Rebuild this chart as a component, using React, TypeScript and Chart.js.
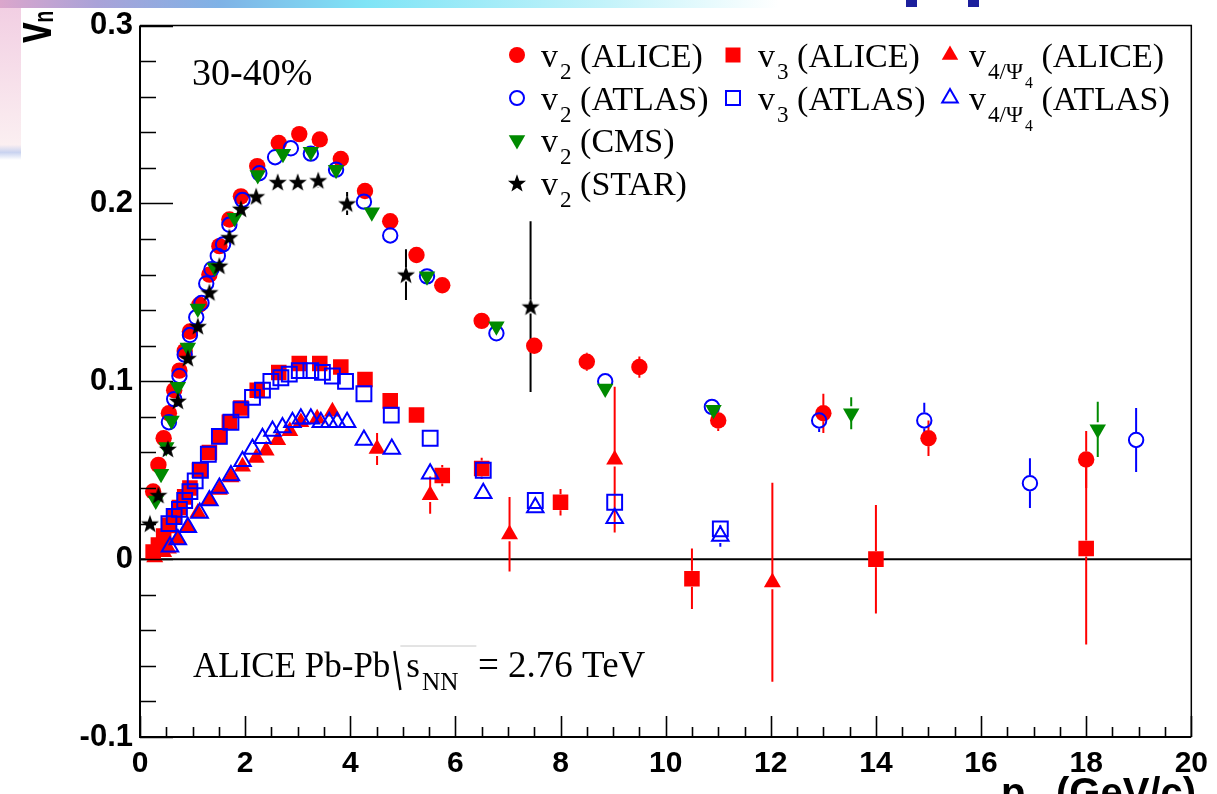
import React, { useEffect, useRef } from "react";
import { Chart, registerables } from "chart.js";

Chart.register(...registerables);

const W = 1217;
const H = 794;

// ---------------- data ----------------
const v2AlicePt = [0.25, 0.35, 0.45, 0.55, 0.65, 0.75, 0.85, 0.95, 1.13, 1.32, 1.51, 1.7, 1.92, 2.23, 2.64, 3.03, 3.42, 3.82, 4.28, 4.76, 5.26, 5.75, 6.5, 7.5, 8.5, 9.5, 11.0, 13.0, 15.0, 18.0];
const v2AliceVal = [0.038, 0.053, 0.068, 0.082, 0.095, 0.106, 0.117, 0.128, 0.143, 0.16, 0.176, 0.191, 0.204, 0.221, 0.234, 0.239, 0.236, 0.225, 0.207, 0.19, 0.171, 0.154, 0.134, 0.12, 0.111, 0.108, 0.078, 0.082, 0.068, 0.056];
const v2AliceErr = [0, 0, 0, 0, 0, 0, 0, 0, 0, 0, 0, 0, 0, 0, 0, 0, 0, 0, 0, 0, 0, 0, 0.003, 0.004, 0.005, 0.006, 0.006, 0.011, 0.01, 0.016];

const v2AtlasPt = [0.55, 0.65, 0.75, 0.85, 0.95, 1.07, 1.17, 1.26, 1.36, 1.48, 1.58, 1.7, 1.95, 2.27, 2.57, 2.87, 3.25, 3.73, 4.26, 4.76, 5.46, 6.78, 8.85, 10.88, 12.92, 14.92, 16.93, 18.95];
const v2AtlasVal = [0.077, 0.09, 0.103, 0.115, 0.126, 0.136, 0.144, 0.155, 0.163, 0.1705, 0.177, 0.188, 0.202, 0.217, 0.226, 0.231, 0.228, 0.219, 0.201, 0.182, 0.159, 0.127, 0.1, 0.0856, 0.078, 0.078, 0.0427, 0.067];
const v2AtlasErr = [0, 0, 0, 0, 0, 0, 0, 0, 0, 0, 0, 0, 0, 0, 0, 0, 0, 0, 0, 0, 0, 0, 0, 0.003, 0.0065, 0.01, 0.014, 0.018];

const v2CmsPt = [0.3, 0.4, 0.5, 0.6, 0.72, 0.91, 1.1, 1.42, 1.8, 2.24, 2.72, 3.25, 3.73, 4.41, 5.46, 6.78, 8.85, 10.91, 13.53, 18.22];
const v2CmsVal = [0.033, 0.048, 0.063, 0.078, 0.097, 0.119, 0.141, 0.164, 0.192, 0.216, 0.228, 0.229, 0.219, 0.195, 0.159, 0.131, 0.096, 0.084, 0.082, 0.073];
const v2CmsErr = [0, 0, 0, 0, 0, 0, 0, 0, 0, 0, 0, 0, 0, 0, 0, 0, 0, 0.003, 0.009, 0.0155];

const v2StarPt = [0.19, 0.35, 0.53, 0.72, 0.91, 1.1, 1.32, 1.51, 1.7, 1.92, 2.21, 2.62, 3.0, 3.39, 3.94, 5.06, 7.43];
const v2StarVal = [0.02, 0.036, 0.062, 0.089, 0.113, 0.131, 0.15, 0.165, 0.181, 0.197, 0.204, 0.212, 0.212, 0.213, 0.2, 0.16, 0.142];
const v2StarErr = [0, 0, 0, 0, 0, 0, 0, 0, 0, 0, 0, 0, 0, 0.004, 0.0065, 0.0143, 0.048];

const v3AlicePt = [0.25, 0.35, 0.45, 0.55, 0.65, 0.75, 0.85, 0.95, 1.13, 1.32, 1.51, 1.7, 1.92, 2.23, 2.64, 3.03, 3.42, 3.82, 4.28, 4.76, 5.26, 5.75, 6.5, 8.0, 10.5, 14.0, 18.0];
const v3AliceVal = [0.004, 0.008, 0.013, 0.019, 0.024, 0.029, 0.035, 0.04, 0.05, 0.06, 0.069, 0.077, 0.085, 0.095, 0.105, 0.11, 0.11, 0.108, 0.101, 0.089, 0.081, 0.047, 0.051, 0.032, -0.011, 0.0, 0.006];
const v3AliceErr = [0, 0, 0, 0, 0, 0, 0, 0, 0, 0, 0, 0, 0, 0, 0, 0, 0, 0, 0.003, 0.0035, 0.0045, 0.006, 0.006, 0.0075, 0.017, 0.0305, 0.054];

const v3AtlasPt = [0.55, 0.65, 0.75, 0.85, 0.95, 1.05, 1.15, 1.3, 1.51, 1.73, 1.92, 2.14, 2.33, 2.49, 2.68, 2.84, 3.03, 3.25, 3.47, 3.66, 3.91, 4.26, 4.78, 5.52, 6.53, 7.52, 9.03, 11.04];
const v3AtlasVal = [0.02, 0.024, 0.028, 0.033, 0.038, 0.044, 0.05, 0.059, 0.069, 0.077, 0.084, 0.091, 0.095, 0.1, 0.102, 0.104, 0.106, 0.106, 0.105, 0.103, 0.1, 0.093, 0.081, 0.068, 0.05, 0.033, 0.032, 0.017];
const v3AtlasErr = [0, 0, 0, 0, 0, 0, 0, 0, 0, 0, 0, 0, 0, 0, 0, 0, 0, 0, 0, 0, 0, 0, 0, 0, 0, 0, 0, 0.004];

const v4AlicePt = [0.28, 0.45, 0.54, 0.72, 0.91, 1.1, 1.32, 1.51, 1.73, 1.95, 2.21, 2.4, 2.62, 2.85, 3.06, 3.37, 3.66, 4.51, 5.52, 7.03, 9.03, 12.03];
const v4AliceVal = [0.001, 0.004, 0.006, 0.011, 0.018, 0.026, 0.033, 0.039, 0.046, 0.052, 0.057, 0.061, 0.067, 0.072, 0.077, 0.079, 0.083, 0.062, 0.036, 0.014, 0.056, -0.013];
const v4AliceErr = [0, 0, 0, 0, 0, 0, 0, 0, 0, 0, 0, 0, 0, 0, 0, 0, 0.004, 0.009, 0.0105, 0.021, 0.041, 0.056];

const v4AtlasPt = [0.57, 0.72, 0.91, 1.135, 1.32, 1.51, 1.73, 1.95, 2.14, 2.33, 2.52, 2.71, 2.9, 3.06, 3.25, 3.44, 3.6, 3.75, 3.94, 4.26, 4.79, 5.52, 6.53, 7.52, 9.03, 11.04];
const v4AtlasVal = [0.007, 0.011, 0.018, 0.026, 0.033, 0.04, 0.047, 0.055, 0.062, 0.068, 0.072, 0.074, 0.077, 0.079, 0.079, 0.077, 0.077, 0.077, 0.077, 0.067, 0.062, 0.048, 0.037, 0.029, 0.023, 0.013];
const v4AtlasErr = [0, 0, 0, 0, 0, 0, 0, 0, 0, 0, 0, 0, 0, 0, 0, 0, 0, 0, 0, 0, 0, 0, 0, 0, 0, 0.006];

const xTickValues = [0, 2, 4, 6, 8, 10, 12, 14, 16, 18, 20];
const xTickLabels = ["0", "2", "4", "6", "8", "10", "12", "14", "16", "18", "20"];
const yTickValues = [-0.1, 0, 0.1, 0.2, 0.3];
const yTickLabels = ["-0.1", "0", "0.1", "0.2", "0.3"];

const legendLabels = [
  "v_{2} (ALICE)", "v_{3} (ALICE)", "v_{4/\u03A8_{4}} (ALICE)",
  "v_{2} (ATLAS)", "v_{3} (ATLAS)", "v_{4/\u03A8_{4}} (ATLAS)",
  "v_{2} (CMS)", "v_{2} (STAR)",
];
const centralityText = "30-40%";
const systemTextA = "ALICE Pb-Pb";
const systemTextS = "s_{NN}";
const systemTextB = "= 2.76 TeV";
const yTitle = "v_{n}";
const xTitleA = "p_{T}";
const xTitleB = "(GeV/c)";

// ---------------- styles ----------------
const RED = "#ff0000";
const BLUE = "#0000ff";
const GREEN = "#008a00";
const BLACK = "#000000";
const SANS = '"Liberation Sans", Arial, sans-serif';
const SERIF = '"Liberation Serif", "Times New Roman", serif';

type Marker = "dot" | "ocircle" | "fsquare" | "osquare" | "ftri" | "otri" | "dtri" | "star";
interface Series { label: string; pt: number[]; val: number[]; err: number[]; color: string; marker: Marker; }

// drawing order: first = bottom
const series: Series[] = [
  { label: legendLabels[0], pt: v2AlicePt, val: v2AliceVal, err: v2AliceErr, color: RED, marker: "dot" },
  { label: legendLabels[1], pt: v3AlicePt, val: v3AliceVal, err: v3AliceErr, color: RED, marker: "fsquare" },
  { label: legendLabels[2], pt: v4AlicePt, val: v4AliceVal, err: v4AliceErr, color: RED, marker: "ftri" },
  { label: legendLabels[3], pt: v2AtlasPt, val: v2AtlasVal, err: v2AtlasErr, color: BLUE, marker: "ocircle" },
  { label: legendLabels[4], pt: v3AtlasPt, val: v3AtlasVal, err: v3AtlasErr, color: BLUE, marker: "osquare" },
  { label: legendLabels[5], pt: v4AtlasPt, val: v4AtlasVal, err: v4AtlasErr, color: BLUE, marker: "otri" },
  { label: legendLabels[6], pt: v2CmsPt, val: v2CmsVal, err: v2CmsErr, color: GREEN, marker: "dtri" },
  { label: legendLabels[7], pt: v2StarPt, val: v2StarVal, err: v2StarErr, color: BLACK, marker: "star" },
];

// legend layout: [series index, column, row]
const legendSlots: [number, number, number][] = [
  [0, 0, 0], [1, 1, 0], [2, 2, 0],
  [3, 0, 1], [4, 1, 1], [5, 2, 1],
  [6, 0, 2], [7, 0, 3],
];
const legendMarkerX = [517, 733, 950];
const legendTextX = [541, 758, 969];
const legendRowY = [55, 98, 140, 183];

function drawStarPath(ctx: CanvasRenderingContext2D, cx: number, cy: number, ro: number, ri: number) {
  ctx.beginPath();
  for (let k = 0; k < 10; k++) {
    const r = k % 2 === 0 ? ro : ri;
    const a = -Math.PI / 2 + (k * Math.PI) / 5;
    const px = cx + r * Math.cos(a);
    const py = cy + r * Math.sin(a);
    if (k === 0) ctx.moveTo(px, py);
    else ctx.lineTo(px, py);
  }
  ctx.closePath();
}

function makeStar(color: string): HTMLCanvasElement {
  const c = document.createElement("canvas");
  c.width = 20;
  c.height = 20;
  const g = c.getContext("2d")!;
  g.fillStyle = color;
  drawStarPath(g, 10, 10.8, 9.5, 3.9);
  g.fill();
  return c;
}

function markerStyle(m: Marker, color: string, star: HTMLCanvasElement) {
  switch (m) {
    case "dot": return { pointStyle: "circle", pointRadius: 8.2, backgroundColor: color, borderColor: color, borderWidth: 0 };
    case "ocircle": return { pointStyle: "circle", pointRadius: 7.2, backgroundColor: "rgba(0,0,0,0)", borderColor: color, borderWidth: 2 };
    case "fsquare": return { pointStyle: "rect", pointRadius: 11, backgroundColor: color, borderColor: color, borderWidth: 0 };
    case "osquare": return { pointStyle: "rect", pointRadius: 10.5, backgroundColor: "rgba(0,0,0,0)", borderColor: color, borderWidth: 2 };
    case "ftri": return { pointStyle: "triangle", pointRadius: 9.8, backgroundColor: color, borderColor: color, borderWidth: 0 };
    case "otri": return { pointStyle: "triangle", pointRadius: 9.5, backgroundColor: "rgba(0,0,0,0)", borderColor: color, borderWidth: 2 };
    case "dtri": return { pointStyle: "triangle", pointRadius: 9.5, pointRotation: 180, backgroundColor: color, borderColor: color, borderWidth: 0 };
    default: return { pointStyle: star, pointRadius: 8, backgroundColor: color, borderColor: color, borderWidth: 0 };
  }
}

function markerHalf(m: Marker): number {
  switch (m) {
    case "dot": case "ocircle": case "fsquare": case "osquare": return 8;
    default: return 7;
  }
}

function drawMarker(ctx: CanvasRenderingContext2D, m: Marker, x: number, y: number, color: string) {
  ctx.save();
  ctx.fillStyle = color;
  ctx.strokeStyle = color;
  ctx.lineWidth = 2;
  ctx.beginPath();
  const tri = (r: number, down: boolean) => {
    const s = down ? -1 : 1;
    ctx.moveTo(x, y - s * r);
    ctx.lineTo(x + r * 0.866, y + s * r * 0.5);
    ctx.lineTo(x - r * 0.866, y + s * r * 0.5);
    ctx.closePath();
  };
  switch (m) {
    case "dot": ctx.arc(x, y, 8, 0, Math.PI * 2); ctx.fill(); break;
    case "ocircle": ctx.arc(x, y, 7, 0, Math.PI * 2); ctx.stroke(); break;
    case "fsquare": ctx.rect(x - 7.5, y - 7.5, 15, 15); ctx.fill(); break;
    case "osquare": ctx.rect(x - 7, y - 7, 14, 14); ctx.stroke(); break;
    case "ftri": tri(9.5, false); ctx.fill(); break;
    case "otri": tri(9, false); ctx.stroke(); break;
    case "dtri": tri(9.5, true); ctx.fill(); break;
    default: drawStarPath(ctx, x, y + 0.8, 9.5, 3.9); ctx.fill(); break;
  }
  ctx.restore();
}

// rich text with _{...} subscripts (nested)
function drawRich(ctx: CanvasRenderingContext2D, text: string, x: number, y: number, size: number, family: string, weight: string, subScale = 0.68, subDrop = 0.33, subGap = 1): number {
  let i = 0;
  let cx = x;
  let buf = "";
  const flush = () => {
    if (!buf) return;
    ctx.font = `${weight} ${size}px ${family}`;
    ctx.fillText(buf, cx, y);
    cx += ctx.measureText(buf).width;
    buf = "";
  };
  while (i < text.length) {
    if (text[i] === "_" && text[i + 1] === "{") {
      flush();
      let depth = 1;
      let j = i + 2;
      while (j < text.length && depth > 0) {
        if (text[j] === "{") depth++;
        else if (text[j] === "}") depth--;
        j++;
      }
      const inner = text.slice(i + 2, j - 1);
      cx += drawRich(ctx, inner, cx + subGap, y + size * subDrop, size * subScale, family, weight, subScale, subDrop, subGap) + subGap;
      i = j;
    } else {
      buf += text[i];
      i++;
    }
  }
  flush();
  return cx - x;
}

export default function App() {
  const ref = useRef<HTMLCanvasElement>(null);

  useEffect(() => {
    const canvas = ref.current;
    if (!canvas) return;
    const star = makeStar(BLACK);

    const datasets = series.map((s, i) => ({
      label: s.label,
      data: s.pt.map((x, j) => ({ x, y: s.val[j] })),
      showLine: false,
      order: series.length - i,
      ...markerStyle(s.marker, s.color, star),
    }));

    const backgroundPlugin = {
      id: "bgPlugin",
      beforeDraw(chart: any) {
        const ctx: CanvasRenderingContext2D = chart.ctx;
        ctx.save();
        ctx.fillStyle = "#ffffff";
        ctx.fillRect(0, 0, W, H);
        const g = ctx.createLinearGradient(0, 0, W, 0);
        g.addColorStop(0, "#dba6cc");
        g.addColorStop(0.08, "#a9a2d8");
        g.addColorStop(0.18, "#7fb2e6");
        g.addColorStop(0.3, "#7fe4f6");
        g.addColorStop(0.5, "#c4f3fa");
        g.addColorStop(0.64, "#ffffff");
        ctx.fillStyle = g;
        ctx.fillRect(0, 0, W, 8);
        const g2 = ctx.createLinearGradient(0, 8, 0, 160);
        g2.addColorStop(0, "#f2cfe3");
        g2.addColorStop(0.9, "#fbeff1");
        g2.addColorStop(0.95, "#c9d3f0");
        g2.addColorStop(1, "#ffffff");
        ctx.fillStyle = g2;
        ctx.fillRect(0, 8, 21, 152);
        ctx.fillStyle = "#1c1f9c";
        ctx.fillRect(906, 0, 11, 7);
        ctx.fillRect(968, 0, 11, 7);
        ctx.restore();
      },
    };

    const framePlugin = {
      id: "framePlugin",
      beforeDatasetsDraw(chart: any) {
        const ctx: CanvasRenderingContext2D = chart.ctx;
        const xs = chart.scales.x;
        const ys = chart.scales.y;
        const a = chart.chartArea;
        ctx.save();
        ctx.strokeStyle = "#000";
        ctx.lineWidth = 2;
        const y0 = ys.getPixelForValue(0);
        ctx.beginPath();
        ctx.moveTo(a.left, y0);
        ctx.lineTo(a.right, y0);
        ctx.stroke();
        ctx.lineWidth = 2;
        series.forEach((s) => {
          ctx.strokeStyle = s.color;
          const h = markerHalf(s.marker);
          s.pt.forEach((x, j) => {
            const e = s.err[j];
            if (!e) return;
            const px = xs.getPixelForValue(x);
            const pc = ys.getPixelForValue(s.val[j]);
            const pHi = ys.getPixelForValue(s.val[j] + e);
            const pLo = ys.getPixelForValue(s.val[j] - e);
            ctx.beginPath();
            if (pc - pHi > h) { ctx.moveTo(px, pc - h); ctx.lineTo(px, pHi); }
            if (pLo - pc > h) { ctx.moveTo(px, pc + h); ctx.lineTo(px, pLo); }
            ctx.stroke();
          });
        });
        ctx.restore();
      },
      afterDatasetsDraw(chart: any) {
        const ctx: CanvasRenderingContext2D = chart.ctx;
        const xs = chart.scales.x;
        const ys = chart.scales.y;
        const a = chart.chartArea;
        ctx.save();
        ctx.strokeStyle = "#000";
        ctx.lineWidth = 1.5;
        ctx.beginPath();
        ctx.moveTo(a.left, a.top);
        ctx.lineTo(a.right, a.top);
        ctx.lineTo(a.right, a.bottom);
        ctx.stroke();
        ctx.lineWidth = 2;
        ctx.beginPath();
        ctx.moveTo(a.left, a.top);
        ctx.lineTo(a.left, a.bottom);
        ctx.lineTo(a.right, a.bottom);
        ctx.stroke();
        ctx.lineWidth = 1.6;
        ctx.beginPath();
        for (let i = 0; i <= 20; i++) {
          const v = yTickValues[0] + i * 0.02;
          const py = Math.round(ys.getPixelForValue(v)) + 0.5;
          const len = i % 5 === 0 ? 33 : 16;
          ctx.moveTo(a.left, py);
          ctx.lineTo(a.left + len, py);
        }
        for (let i = 0; i <= 40; i++) {
          const v = xTickValues[0] + i * 0.5;
          const px = Math.round(xs.getPixelForValue(v)) + 0.5;
          const len = i % 4 === 0 ? 21 : 10;
          ctx.moveTo(px, a.bottom);
          ctx.lineTo(px, a.bottom - len);
        }
        ctx.stroke();
        ctx.restore();
      },
      afterDraw(chart: any) {
        const ctx: CanvasRenderingContext2D = chart.ctx;
        ctx.save();
        ctx.fillStyle = "#000";
        ctx.textBaseline = "alphabetic";
        ctx.textAlign = "left";
        // centrality
        ctx.font = `38px ${SERIF}`;
        ctx.fillText(centralityText, 192, 85);
        // legend
        legendSlots.forEach(([si, col, row]) => {
          const s = series[si];
          drawMarker(ctx, s.marker, legendMarkerX[col], legendRowY[row], s.color);
          ctx.fillStyle = "#000";
          drawRich(ctx, s.label, legendTextX[col], legendRowY[row] + 12, 34, SERIF, "normal", 0.68, 0.36, 2);
        });
        // system annotation
        ctx.fillStyle = "#000";
        const bx = 193;
        const by = 677;
        ctx.font = `35px ${SERIF}`;
        ctx.fillText(systemTextA, bx, by);
        const sx = bx + ctx.measureText(systemTextA).width + 4;
        ctx.strokeStyle = "#000";
        ctx.lineWidth = 2.4;
        ctx.beginPath();
        ctx.moveTo(sx, by - 26);
        ctx.lineTo(sx + 6, by + 13);
        ctx.stroke();
        ctx.strokeStyle = "#c8c8c8";
        ctx.lineWidth = 1;
        ctx.beginPath();
        ctx.moveTo(sx + 6, by - 31);
        ctx.lineTo(sx + 82, by - 31);
        ctx.stroke();
        ctx.fillStyle = "#000";
        drawRich(ctx, systemTextS, sx + 12, by, 35, SERIF, "normal", 0.72, 0.36, 2);
        ctx.font = `37px ${SERIF}`;
        ctx.fillText(systemTextB, 478, by);
        // y title (rotated)
        ctx.save();
        ctx.translate(51, 43);
        ctx.rotate(-Math.PI / 2);
        ctx.scale(1, 1.45);
        drawRich(ctx, yTitle, 0, 0, 37, SANS, "bold", 0.52, 0.04, 0);
        ctx.restore();
        // x title
        drawRich(ctx, xTitleA, 1001, 806, 40, SANS, "bold", 0.62, 0.3, 1);
        ctx.font = `bold 40px ${SANS}`;
        ctx.fillText(xTitleB, 1056, 806);
        ctx.restore();
      },
    };

    const chart = new Chart(canvas, {
      type: "scatter",
      data: { datasets: datasets as any },
      options: {
        animation: false,
        responsive: false,
        events: [],
        layout: { padding: { top: 22, right: 20, left: 0, bottom: 0 } },
        plugins: { legend: { display: false }, tooltip: { enabled: false } },
        scales: {
          x: {
            type: "linear",
            min: 0,
            max: 20,
            afterBuildTicks: (s: any) => { s.ticks = xTickValues.map((v) => ({ value: v })); },
            afterFit: (s: any) => { s.height = 57; },
            grid: { display: false, drawTicks: false },
            border: { display: false },
            ticks: {
              autoSkip: false,
              maxRotation: 0,
              padding: 9,
              color: "#000",
              font: { family: SANS, size: 30, weight: "bold" },
              callback: (_v: any, i: number) => xTickLabels[i],
            },
          },
          y: {
            type: "linear",
            min: -0.1,
            max: 0.3,
            afterBuildTicks: (s: any) => { s.ticks = yTickValues.map((v) => ({ value: v })); },
            afterFit: (s: any) => { s.width = 140; },
            grid: { display: false, drawTicks: false },
            border: { display: false },
            ticks: {
              autoSkip: false,
              padding: 7,
              color: "#000",
              font: { family: SANS, size: 31, weight: "bold" },
              callback: (_v: any, i: number) => yTickLabels[i],
            },
          },
        },
      } as any,
      plugins: [backgroundPlugin, framePlugin],
    });

    return () => chart.destroy();
  }, []);

  return (
    <div style={{ position: "fixed", left: 0, top: 0, width: W, height: H, background: "#fff" }}>
      <canvas ref={ref} width={W} height={H} style={{ display: "block", width: W, height: H }} />
    </div>
  );
}
